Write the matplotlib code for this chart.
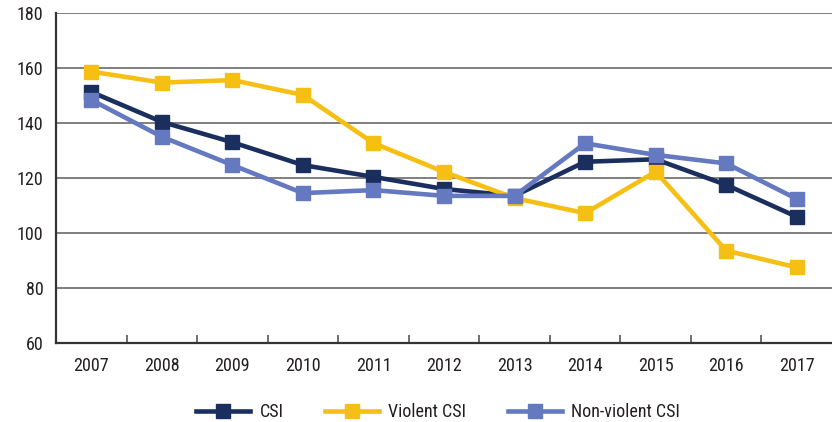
import matplotlib

matplotlib.use("Agg")

import matplotlib.pyplot as plt
import numpy as np

years = ["2007", "2008", "2009", "2010", "2011", "2012", "2013", "2014", "2015", "2016", "2017"]
csi = [151.3, 140.4, 133.0, 124.7, 120.4, 116.0, 113.5, 125.9, 126.8, 117.5, 105.9]
violent_csi = [158.7, 154.7, 155.6, 150.2, 132.7, 122.2, 112.7, 107.2, 122.3, 93.6, 87.5]
nonviolent_csi = [148.4, 135.0, 124.7, 114.5, 115.6, 113.5, 113.5, 132.6, 128.4, 125.3, 112.4]
y_ticks = [60, 80, 100, 120, 140, 160, 180]

plt.rcParams["font.family"] = ["Roboto Condensed", "DejaVu Sans"]

TEXT = "#231f20"
series = [
    ("CSI", csi, "#1b2f5e"),
    ("Violent CSI", violent_csi, "#f6bf14"),
    ("Non-violent CSI", nonviolent_csi, "#6479bf"),
]

fig = plt.figure(figsize=(8.32, 4.22), dpi=100)
ax = fig.add_axes([56 / 832, 1 - 343 / 422, 1 - 56 / 832, 330 / 422])

x = np.arange(len(years))
for label, values, color in series:
    ax.plot(x, values, color=color, linewidth=3.3, marker="s", markersize=10.5,
            label=label, solid_joinstyle="miter")

ax.set_ylim(60, 180)
ax.set_xlim(-0.5, len(years) - 0.5)
ax.set_yticks(y_ticks)
ax.set_yticklabels([str(v) for v in y_ticks], fontsize=13, color=TEXT)
ax.set_xticks(x)
ax.set_xticklabels(years, fontsize=13, color=TEXT)
ax.set_xticks(np.arange(0.5, len(years) - 1, 1), minor=True)
ax.tick_params(axis="x", which="major", length=0, pad=10)
ax.tick_params(axis="x", which="minor", direction="in", length=5.5, width=1.2, color="#555555")
ax.tick_params(axis="y", length=0, pad=9)

for v in y_ticks[1:]:
    ax.axhline(v, color="#7f7f7f", linewidth=1.4, zorder=0)

for side in ["top", "right"]:
    ax.spines[side].set_visible(False)
for side in ["left", "bottom"]:
    ax.spines[side].set_color("#333333")
    ax.spines[side].set_linewidth(1.6)

fig.legend(loc="center", bbox_to_anchor=(438 / 832, 1 - 412 / 422), ncol=3,
           frameon=False, fontsize=13, handlelength=3.0, columnspacing=2.3,
           handletextpad=0.5, labelcolor=TEXT, borderpad=0)

fig.savefig("out.png", dpi=100)
